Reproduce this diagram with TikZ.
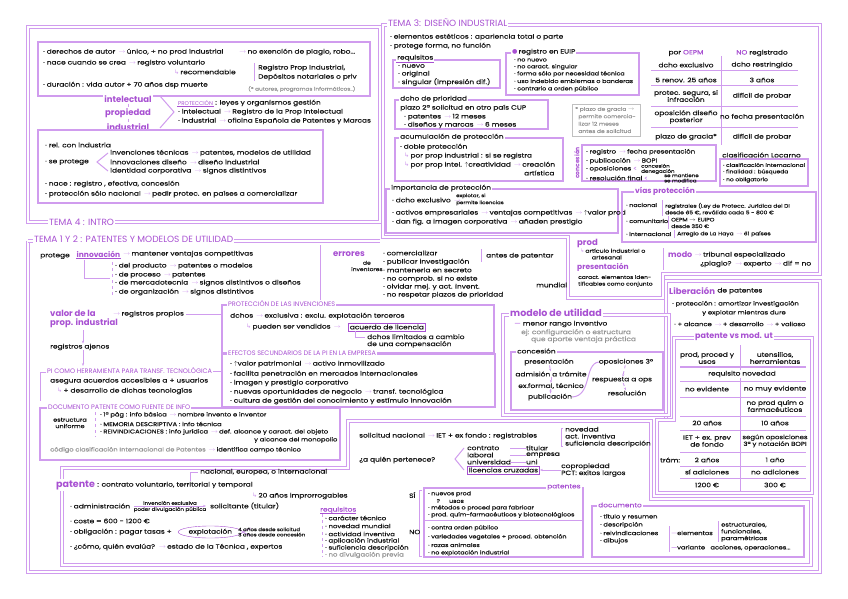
\documentclass[tikz,border=0pt]{standalone}
\usepackage{fontspec}
\setmainfont{Poppins}
\newfontfamily\bodyf[FakeStretch=1.2,FakeBold=0.4]{Poppins}
\newfontfamily\symf{DejaVu Sans}
\usepackage{tikz}
\usetikzlibrary{arrows.meta,positioning,calc,shapes.geometric}

\definecolor{pur}{RGB}{168,80,210}
\definecolor{lav}{RGB}{208,156,238}
\definecolor{ink}{RGB}{20,20,20}
\definecolor{gry}{RGB}{150,150,150}
\newcommand\ar{\,\textcolor{lav}{$\rightarrow$}\,}
\newcommand\hk{\textcolor{lav}{\symf ↳}\,}
\newcommand\up{$\uparrow$}
\newcommand\fsz[2]{\bodyf\fontsize{#1}{#2}\selectfont}

\begin{document}
\begin{tikzpicture}[x=1pt, y=-1pt,
    txt/.style={anchor=west, inner sep=0pt, text=ink, font=\fsz{6.2}{7}},
    sml/.style={txt, font=\fsz{4.6}{5.2}},
    mid/.style={txt, anchor=center, align=center},
    gtx/.style={txt, text=gry},
    hd/.style={anchor=west, inner sep=1pt, fill=white, text=pur, font=\fontsize{8.5}{9.5}\selectfont\bfseries},
    capt/.style={anchor=west, inner sep=1pt, fill=white, text=pur, font=\fontsize{6.5}{7}\selectfont},
    ttl/.style={capt, font=\fontsize{9}{10}\selectfont},
    ul/.style={append after command={(\tikzlastnode.south west) edge[draw=pur, line width=0.6pt] (\tikzlastnode.south east)}},
    frame/.style={draw=lav, line width=1pt, double=white, double distance=1.5pt},
    box/.style={draw=lav, line width=1.3pt},
    sep/.style={draw=lav, line width=1pt},
    lnk/.style={draw=lav, line width=0.9pt, -{Stealth[length=3pt]}},
  ]
  \useasboundingbox[fill=white] (0,0) rectangle (848,599);

  % ---------- tema 4: propiedad ----------
  \draw[frame] (28,27) rectangle (380,222);
  \node[ttl] (t4) at (48,222) {TEMA 4 : INTRO};

  \draw[box] (38,42) rectangle (370,96);
  \node[txt] (da1) at (43,52) {· derechos de autor \ar único, + no prod industrial};
  \node[txt] (da2) at (238,52) {\ar no exención de plagio, robo...};
  \node[txt] (da3) at (43,63) {· nace cuando se crea \ar registro voluntario};
  \node[txt] (da4) at (174,72) {\hk recomendable};
  \draw[sep] (254,63) -- (254,81);
  \node[txt] (da5) at (258,68) {Registro Prop Industrial,};
  \node[txt] (da6) at (258,77) {Depósitos notariales o priv};
  \node[txt] (da7) at (43,85) {· duración : vida autor + 70 años dsp muerte};
  \node[gtx, font=\fsz{4.8}{5.4}] (da8) at (248,89) {(* autores, programas informáticos..)};

  \node[hd, anchor=center] (pint) at (128,99) {intelectual};
  \node[hd, anchor=center] (pprop) at (128,113) {propiedad};
  \node[hd, anchor=center] (pind) at (128,127) {industrial};
  \draw[sep] (pint) -- (pprop);
  \draw[sep] (pprop) -- (pind);
  \draw[sep] (160,96) -- (174,112) -- (160,128);
  \node[capt, ul, font=\fontsize{5.5}{6}\selectfont] (prt) at (177,103) {PROTECCIÓN};
  \node[txt, right=1pt of prt] (prt2) {: leyes y organismos gestión};
  \node[txt] (prt3) at (178,112) {· intelectual \ar Registro de la Prop Intelectual};
  \node[txt] (prt4) at (178,121) {· industrial \ar oficina Española de Patentes y Marcas};

  \draw[box] (38,130) rectangle (323,203);
  \node[txt] (in1) at (45,145) {· rel. con industria};
  \node[txt] (in2) at (45,162) {· se protege};
  \draw[sep] (108,153) -- (97,162) -- (108,171);
  \node[txt] (in3) at (110,153) {invenciones técnicas \ar patentes, modelos de utilidad};
  \node[txt] (in4) at (110,162) {innovaciones diseño \ar diseño industrial};
  \node[txt] (in5) at (110,171) {identidad corporativa \ar signos distintivos};
  \node[txt] (in6) at (45,184) {· nace : registro , efectiva, concesión};
  \node[txt] (in7) at (45,194) {· protección sólo nacional \ar pedir protec. en países a comercializar};

  % ---------- tema 3: diseno industrial ----------
  \draw[frame] (383,237) -- (383,25) -- (820,25) -- (820,274) -- (663,274)
    -- (663,298) -- (568,298) -- (568,237) -- cycle;
  \node[ttl] (t3) at (387,23) {TEMA 3: DISEÑO INDUSTRIAL};
  \node[txt] (di1) at (390,37) {· elementos estéticos : apariencia total o parte};
  \node[txt] (di2) at (390,46) {· protege forma, no función};

  \draw[box] (393,60) rectangle (500,88);
  \node[txt, fill=white, inner sep=1pt, ul] (req) at (396,58) {requisitos};
  \foreach \y/\t [count=\i] in {66/{· nuevo}, 74/{· original}, 82/{· singular (impresión dif.)}}
    \node[txt] (rq\i) at (398,\y) {\t};

  \draw[box] (506,53) rectangle (639,95);
  \node[txt, fill=white, inner sep=1pt, text=pur] (eu) at (511,52) {\symf●\,\textcolor{ink}{\bodyf registro en EUIP}};
  \foreach \y/\t [count=\i] in {60/{· no nuevo}, 67/{· no caract. singular},
      74/{· forma sólo por necesidad técnica}, 81/{· uso indebido emblemas o banderas},
      89/{· contrario a orden público}}
    \node[txt, font=\fsz{5.3}{6}] (eu\i) at (514,\y) {\t};

  % tabla oepm
  \draw[sep] (721,56) -- (721,145);
  \foreach \y in {71,86,107,128}
    \draw[sep] (651,\y) -- (798,\y);
  \node[mid] (oa) at (686,53) {por \textcolor{pur}{OEPM}};
  \node[mid] (ob) at (762,53) {\textcolor{pur}{NO} registrado};
  \node[mid] (oa1) at (686,65) {dcho exclusivo};
  \node[mid] (ob1) at (762,65) {dcho restringido};
  \node[mid] (oa2) at (686,80) {5 renov. 25 años};
  \node[mid] (ob2) at (762,80) {3 años};
  \node[mid] (oa3) at (686,96) {protec. segura, si\\infracción};
  \node[mid] (ob3) at (762,96) {difícil de probar};
  \node[mid] (oa4) at (686,117) {oposición diseño\\posterior};
  \node[mid] (ob4) at (762,117) {no fecha presentación};
  \node[mid] (oa5) at (686,137) {plazo de gracia*};
  \node[mid] (ob5) at (762,137) {difícil de probar};

  \draw[box] (395,100) rectangle (548,129);
  \node[txt, fill=white, inner sep=1pt] (pri) at (399,99) {dcho de prioridad};
  \node[txt] (pr1) at (400,108) {plazo 2ª solicitud en otro país CUP};
  \node[txt] (pr2) at (404,117) {· patentes \ar 12 meses};
  \node[txt] (pr3) at (404,125) {· diseños y marcas \ar 6 meses};

  \draw[draw=gry!60, line width=1pt] (572,105) rectangle (640,136);
  \node[gtx, font=\fsz{5}{7.4}, align=left] (gra) at (575,120)
    {* plazo de gracia $\rightarrow$\\\ \ permite comercia-\\\ \ lizar 12 meses\\\ \ antes de solicitud};

  \draw[box] (395,138) rectangle (563,181);
  \node[txt, fill=white, inner sep=1pt] (acu) at (399,137) {acumulación de protección};
  \node[txt] (ac1) at (400,147) {· doble protección};
  \node[txt] (ac2) at (404,156) {\hk por prop industrial : si se registra};
  \node[txt] (ac3) at (404,165) {\hk por prop intel. \up creatividad \ar creación};
  \node[txt] (ac4) at (524,173) {artística};

  \node[hd, rotate=90, anchor=center, font=\fontsize{6}{6}\selectfont\bfseries] (conc) at (577,163) {concesión};
  \draw[box] (582,145) rectangle (716,181);
  \node[txt, font=\fsz{5.8}{6.6}] (co1) at (586,152) {· registro \ar fecha presentación};
  \node[txt, font=\fsz{5.8}{6.6}] (co2) at (586,161) {· publicación \ar BOPI};
  \node[txt, font=\fsz{5.8}{6.6}] (co3) at (586,169) {· oposiciones \textcolor{lav}{<}};
  \node[sml, align=left] (co3b) at (641,169) {concesión\\denegación};
  \node[txt, font=\fsz{5.8}{6.6}] (co4) at (586,178) {· resolución final \textcolor{lav}{<}};
  \node[sml, align=left] (co4b) at (664,178) {se mantiene\\se modifica};

  \node[txt] (loc) at (722,155) {clasificación Locarno};
  \draw[box] (720,159) rectangle (808,186);
  \foreach \y/\t [count=\i] in {165/{· clasificación internacional}, 172/{· finalidad : búsqueda}, 180/{· no obligatorio}}
    \node[txt, font=\fsz{5}{6}] (lo\i) at (723,\y) {\t};

  \draw[box] (386,189) rectangle (618,233);
  \node[txt, fill=white, inner sep=1pt] (imp) at (390,188) {importancia de protección};
  \node[txt] (im1) at (392,200) {· dcho exclusivo \ar};
  \node[sml] (im1a) at (456,196) {explotar, si};
  \node[sml] (im1b) at (456,203) {permite licencias};
  \node[txt] (im2) at (392,213) {· activos empresariales \ar ventajas competitivas \ar \up valor prod};
  \node[txt] (im3) at (392,222) {· dan fig. a imagen corporativa \ar añaden prestigio};

  \draw[box] (622,192) rectangle (816,242);
  \node[hd, font=\fontsize{7.5}{8}\selectfont\bfseries] (vias) at (634,191) {vías protección};
  \node[txt, font=\fsz{5.3}{6}] (vi1) at (626,205) {· nacional};
  \draw[sep] (662,200) -- (662,216);
  \node[txt, font=\fsz{5}{6.6}, align=left] (vi1b) at (665,209) {registrales (Ley de Protecc. Jurídica del DI\\desde 65 €, reválida cada 5 - 800 €};
  \node[txt, font=\fsz{5.3}{6}] (vi2) at (626,221) {· comunitario};
  \draw[sep] (668,216) -- (668,229);
  \node[txt, font=\fsz{5}{6.6}, align=left] (vi2b) at (671,223) {OEPM $\rightarrow$ EUIPO\\desde 350 €};
  \node[txt, font=\fsz{5.3}{6}] (vi3) at (626,234) {· internacional};
  \draw[sep] (674,230) -- (674,238);
  \node[txt, font=\fsz{5}{6}] (vi3b) at (677,234) {Arreglo de La Haya \ar 61 países};

  \node[hd] (prod) at (576,243) {prod};
  \node[txt, font=\fsz{5.2}{6.6}, align=left] (pd1) at (580,254) {\hk artículo industrial o\\\ \ \ \ \ \ \ artesanal};
  \node[hd, font=\fontsize{7.5}{8}\selectfont\bfseries] (pres) at (576,267) {presentación};
  \node[txt, font=\fsz{5}{6.6}, align=left] (pd2) at (578,281) {caract. elementos iden-\\tificables como conjunto};
  \draw[sep] (663,248) -- (663,270);
  \node[hd, font=\fontsize{8}{9}\selectfont\bfseries] (modo) at (667,255) {modo};
  \node[txt, right=0pt of modo] (mo1) {\ar tribunal especializado};
  \node[txt] (mo2) at (700,264) {¿plagio? \ar experto \ar dif = no};

  % ---------- tema 1 y 2: patentes ----------
  \draw[frame] (28,241) -- (28,572) -- (820,572) -- (820,281) -- (666,281) -- (666,418);
  \draw[frame] (28,241) -- (380,241);
  \node[ttl] (t12) at (33,239) {TEMA 1 Y 2 : PATENTES Y MODELOS DE UTILIDAD};

  \node[txt] (pg) at (40,256) {protege};
  \node[hd, ul, inner sep=0.5pt, font=\fontsize{7.5}{8}\selectfont\bfseries] (inno) at (76,254) {innovación};
  \node[txt, right=1pt of inno] (inno2) {\ar mantener ventajas competitivas};
  \draw[sep] (inno.south) ++(-14,2) |- (110,278);
  \draw[sep, dashed] (112,262) -- (112,296);
  \foreach \y/\t [count=\i] in {266/{· del producto \ar patentes o modelos}, 275/{· de proceso \ar patentes},
      283/{· de mercadotecnia \ar signos distintivos o diseños}, 292/{· de organización \ar signos distintivos}}
    \node[txt] (iv\i) at (115,\y) {\t};

  \draw[sep] (320,245) -- (320,300);
  \node[hd] (err) at (332,254) {errores};
  \node[txt, font=\fsz{5}{6.4}, align=center] (err2) at (351,266) {de\\inventores};
  \foreach \y/\t [count=\i] in {253/{· comercializar}, 262/{· publicar investigación}, 270/{· mantenerla en secreto},
      279/{· no comprob. si no existe}, 287/{· olvidar mej. y act. invent.}, 295/{· no respetar plazos de prioridad}}
    \node[txt] (er\i) at (383,\y) {\t};
  \draw[sep] (481,249) -- (481,262);
  \node[txt] (er7) at (486,256) {antes de patentar};
  \node[txt] (er8) at (536,285) {mundial};

  \node[hd, align=left, fill=none] (valor) at (49,319) {valor de la\\prop. industrial};
  \node[txt] (vpr) at (112,314) {\ar registros propios};
  \draw[sep] (vpr.east) ++(2,0) -- (222,314);
  \node[txt] (vaj) at (50,347) {registros ajenos};
  \draw[lnk] (83,330) -- (vaj.north -| 83,0);
  \node[capt] (pih) at (46,371) {PI COMO HERRAMIENTA PARA TRANSF. TECNOLÓGICA};
  \draw[lnk] (vaj.south -| 83,0) -- (83,366);
  \draw[sep] (pih.east) -- (222,371);
  \draw[sep] (46,372) -- (40,372) -- (40,401);
  \node[txt] (pi1) at (50,381) {asegura acuerdos accesibles a + usuarios};
  \node[txt] (pi2) at (57,391) {\hk + desarrollo de dichas tecnologías};

  \draw[box] (222,305) rectangle (494,353);
  \node[capt] (pin) at (227,304) {PROTECCIÓN DE LAS INVENCIONES};
  \node[txt] (pn1) at (230,316) {dchos \ar exclusiva : exclu. explotación terceros};
  \node[txt] (pn2) at (246,327) {\hk pueden ser vendidos \ar};
  \node[txt, draw=pur, line width=0.7pt, inner sep=1.5pt] (lic) at (348,327) {acuerdo de licencia};
  \draw[sep] (355,331) |- (365,337);
  \node[txt, align=left] (pn3) at (367,341) {dchos limitados a cambio\\de una compensación};

  \draw[box] (222,354) rectangle (495,407);
  \node[capt] (efe) at (227,353) {EFECTOS SECUNDARIOS DE LA PI EN LA EMPRESA};
  \foreach \y/\t [count=\i] in {364/{· \up valor patrimonial \ar activo inmovilizado},
      374/{· facilita penetración en mercados internacionales},
      383/{· imagen y prestigio corporativo},
      392/{· nuevas oportunidades de negocio \ar transf. tecnológica},
      401/{· cultura de gestión del conocimiento y estímulo innovación}}
    \node[txt] (ef\i) at (230,\y) {\t};

  \draw[box] (40,408) rectangle (340,460);
  \node[capt] (doc) at (47,407) {DOCUMENTO PATENTE COMO FUENTE DE INFO};
  \node[mid, font=\fsz{5.4}{6.4}] (est) at (70,423) {estructura\\uniforme};
  \draw[sep, dashed] (95,412) -- (95,437);
  \node[txt, font=\fsz{5.6}{6.4}] (dc1) at (100,415) {· 1ª pág : info básica \ar nombre invento e inventor};
  \node[txt, font=\fsz{5.6}{6.4}] (dc2) at (100,424) {· MEMORIA DESCRIPTIVA : info técnica};
  \node[txt, font=\fsz{5.6}{6.4}] (dc3) at (100,432) {· REIVINDICACIONES : info jurídica \ar def. alcance y caract. del objeto};
  \node[txt, font=\fsz{5.6}{6.4}] (dc4) at (254,440) {y alcance del monopolio};
  \node[gtx, font=\fsz{5.6}{6.4}] (dc5) at (50,450) {código clasificación Internacional de Patentes \textcolor{ink}{\ar identifica campo técnico}};

  % patente
  \draw[frame] (62,468) -- (348,468) -- (348,421) -- (651,421) -- (651,499)
    -- (811,499) -- (811,565) -- (62,565) -- cycle;
  \node[hd, font=\fontsize{9.5}{10}\selectfont\bfseries] (pat) at (55,485) {patente};
  \node[txt, right=1pt of pat] (pt1) {: contrato voluntario, territorial y temporal};
  \draw[sep] (190,481) |- (198,472);
  \node[txt] (pt2) at (200,472) {nacional, europea, o internacional};
  \node[txt] (pt3) at (252,496) {\hk 20 años improrrogables};
  \node[txt] (pt4) at (70,506) {· administración};
  \draw[lnk] (134,506) -- (206,506);
  \node[sml, anchor=south] (pt4a) at (170,505) {invención exclusiva};
  \node[sml, anchor=north] (pt4b) at (170,507) {poder divulgación pública};
  \node[txt] (pt5) at (210,506) {solicitante (titular)};
  \node[txt] (pt6) at (70,521) {· coste = 600 - 1200 €};
  \node[txt] (pt7) at (70,532) {· obligación : pagar tasas +};
  \node[txt, draw=pur, ellipse, inner sep=1pt] (expl) at (178,532) {explotación};
  \draw[sep] (expl.east) ++(8,-4) -- (expl.east) -- ++(8,4);
  \node[sml, align=left] (pt7b) at (238,532) {4 años desde solicitud\\3 años desde concesión};
  \node[txt] (pt8) at (70,547) {· ¿cómo, quién evalúa? \ar estado de la Técnica , expertos};

  \node[txt, text=pur, ul] (rqp) at (320,510) {requisitos};
  \draw[sep, dashed] (322,514) -- (322,557);
  \foreach \y/\t [count=\i] in {518/{· carácter técnico}, 526/{· novedad mundial}, 534/{· actividad inventiva},
      541/{· aplicación industrial}, 548/{· suficiencia descripción}}
    \node[txt, font=\fsz{5.8}{6.6}] (rp\i) at (325,\y) {\t};
  \node[gtx, font=\fsz{5.8}{6.6}] (rp6) at (325,555) {· no divulgación previa};

  \node[txt] (sol) at (359,436) {solicitud nacional \ar IET + ex fondo : registrables};
  \draw[sep] (563,428) -- (561,428) -- (561,446) -- (563,446);
  \node[txt, align=left] (sol2) at (565,437) {novedad\\act. inventiva\\suficiencia descripción};
  \node[txt] (qui) at (359,460) {¿a quién pertenece?};
  \draw[sep] (464,448) -- (455,459) -- (464,470);
  \foreach \y/\a/\b [count=\i] in {448/contrato/titular, 455/laboral/empresa, 462/universidad/uni}{
    \node[txt] (qa\i) at (467,\y) {\a};
    \node[txt] (qb\i) at (526,\y) {\b};
    \draw[sep] (qa\i.east -| 510,0) -- (qb\i.west);
  }
  \node[txt, draw=pur, line width=0.7pt, inner sep=1.5pt] (lcz) at (467,470) {licencias cruzadas};
  \node[txt, align=left] (cop) at (561,470) {copropiedad\\PCT: exitos largos};
  \draw[lnk] (cop.west) -- (lcz.east);

  \draw[box] (424,488) rectangle (583,557);
  \node[txt, fill=white, inner sep=1pt, text=pur] (pts) at (546,487) {patentes};
  \draw[sep] (422,490) -- (419,490) -- (419,556) -- (422,556);
  \node[txt] (si) at (409,495) {SÍ};
  \node[txt] (no) at (409,532) {NO};
  \foreach \y/\t [count=\i] in {494/{· nuevos prod}, 501/{\ \ \ \ \ ? \ \ \ \ usos}, 508/{· métodos o proced para fabricar},
      515/{· prod. quím-farmacéuticos y biotecnológicos}}
    \node[txt, font=\fsz{5.3}{6.4}] (ps\i) at (428,\y) {\t};
  \draw[sep] (424,520) -- (583,520);
  \foreach \y/\t [count=\i] in {528/{· contra orden público}, 537/{· variedades vegetales + proced. obtención},
      545/{· razas animales}, 553/{· no explotación industrial}}
    \node[txt, font=\fsz{5.3}{6.4}] (pn\i) at (428,\y) {\t};

  \draw[box] (592,506) rectangle (804,557);
  \node[txt, fill=white, inner sep=1pt, text=pur] (dcm) at (597,505) {documento};
  \foreach \y/\t [count=\i] in {517/{· título y resumen}, 525/{· descripción}, 533/{· reivindicaciones}, 541/{· dibujos}}
    \node[txt, font=\fsz{5.6}{6.4}] (dm\i) at (600,\y) {\t};
  \draw[sep] (669,526) -- (669,552);
  \node[txt, font=\fsz{5.6}{6.4}] (dme) at (671,533) {\textcolor{lav}{—}elementos};
  \draw[sep] (718,521) -- (718,542);
  \node[txt, font=\fsz{5.6}{6.8}, align=left] (dme2) at (721,532) {estructurales,\\funcionales,\\paramétricas};
  \node[txt, font=\fsz{5.6}{6.4}] (dmv) at (671,548) {\textcolor{lav}{—}variante \ \ acciones, operaciones...};

  % modelo de utilidad
  \draw[frame] (503,315) rectangle (669,415);
  \node[hd, font=\fontsize{9.5}{10}\selectfont\bfseries] (mu) at (509,313) {modelo de utilidad};
  \node[txt] (mu1) at (514,324) {\textcolor{lav}{—} menor rango inventivo};
  \node[gtx, align=left] (mu2) at (521,336) {ej: configuración o estructura\\\ \ \ \ \ que aporte ventaja práctica};
  \draw[box] (511,352) rectangle (663,410);
  \node[txt, fill=white, inner sep=1pt] (mc) at (516,351) {concesión};
  \node[mid] (mc1) at (549,362) {presentación};
  \node[mid] (mc2) at (551,374) {admisión a trámite};
  \node[mid] (mc3) at (551,386) {ex.formal, técnico};
  \node[mid] (mc4) at (550,397) {publicación};
  \draw[lnk, dashed] (mc1) -- (mc2);
  \draw[lnk, dashed] (mc2) -- (mc3);
  \draw[lnk, dashed] (mc3) -- (mc4);
  \node[mid] (mo3) at (626,362) {oposiciones 3º};
  \node[mid] (mo4) at (622,380) {respuesta a ops};
  \node[mid] (mo5) at (627,393) {resolución};
  \draw[sep] (mc4.east) .. controls (592,396) and (584,364) .. (mo3.west);
  \draw[lnk, dashed] (mo3) -- (mo4);
  \draw[lnk, dashed] (mo4) -- (mo5);

  % liberacion y tabla
  \node[hd] (lib) at (668,291) {Liberación};
  \node[txt, right=1pt of lib] (lib2) {de patentes};
  \node[txt, font=\fsz{5.7}{6.4}] (lb1) at (672,304) {· protección : amortizar investigación};
  \node[txt, font=\fsz{5.7}{6.4}] (lb2) at (702,313) {y explotar mientras dure};
  \node[txt, font=\fsz{5.7}{6.4}] (lb3) at (674,324) {· + alcance \ar + desarrollo \ar + valioso};

  \draw[frame] (674,338) -- (674,420) -- (657,420) -- (657,493) -- (812,493) -- (812,338) -- cycle;
  \node[hd, font=\fontsize{8}{9}\selectfont\bfseries] (pvm) at (694,337) {patente vs mod. ut};
  \draw[sep] (740,345) -- (740,491);
  \foreach \y in {381,397,416,430,452,466,478}
    \draw[sep] (680,\y) -- (806,\y);
  \draw[draw=lav, line width=1.8pt] (680,367) -- (806,367);
  \node[mid] (ta1) at (707,358) {prod, proced y\\usos};
  \node[mid] (tb1) at (775,358) {utensilios,\\herramientas};
  \node[mid, fill=white, inner sep=1pt] (tc) at (742,374) {requisito novedad};
  \node[mid] (ta2) at (707,389) {no evidente};
  \node[mid] (tb2) at (775,389) {no muy evidente};
  \node[mid] (tb3) at (775,406) {no prod quím o\\farmacéuticos};
  \node[mid] (ta4) at (707,423) {20 años};
  \node[mid] (tb4) at (775,423) {10 años};
  \node[mid] (ta5) at (707,441) {IET + ex. prev\\de fondo};
  \node[mid, font=\fsz{5.8}{6.8}] (tb5) at (775,441) {según oposiciones\\3ª y notación BOPI};
  \node[txt] (tram) at (660,460) {trám:};
  \node[mid] (ta6) at (707,460) {2 años};
  \node[mid] (tb6) at (775,460) {1 año};
  \node[mid] (ta7) at (707,472) {sí adiciones};
  \node[mid] (tb7) at (775,472) {no adiciones};
  \node[mid] (ta8) at (707,485) {1200 €};
  \node[mid] (tb8) at (775,485) {300 €};
\end{tikzpicture}
\end{document}
